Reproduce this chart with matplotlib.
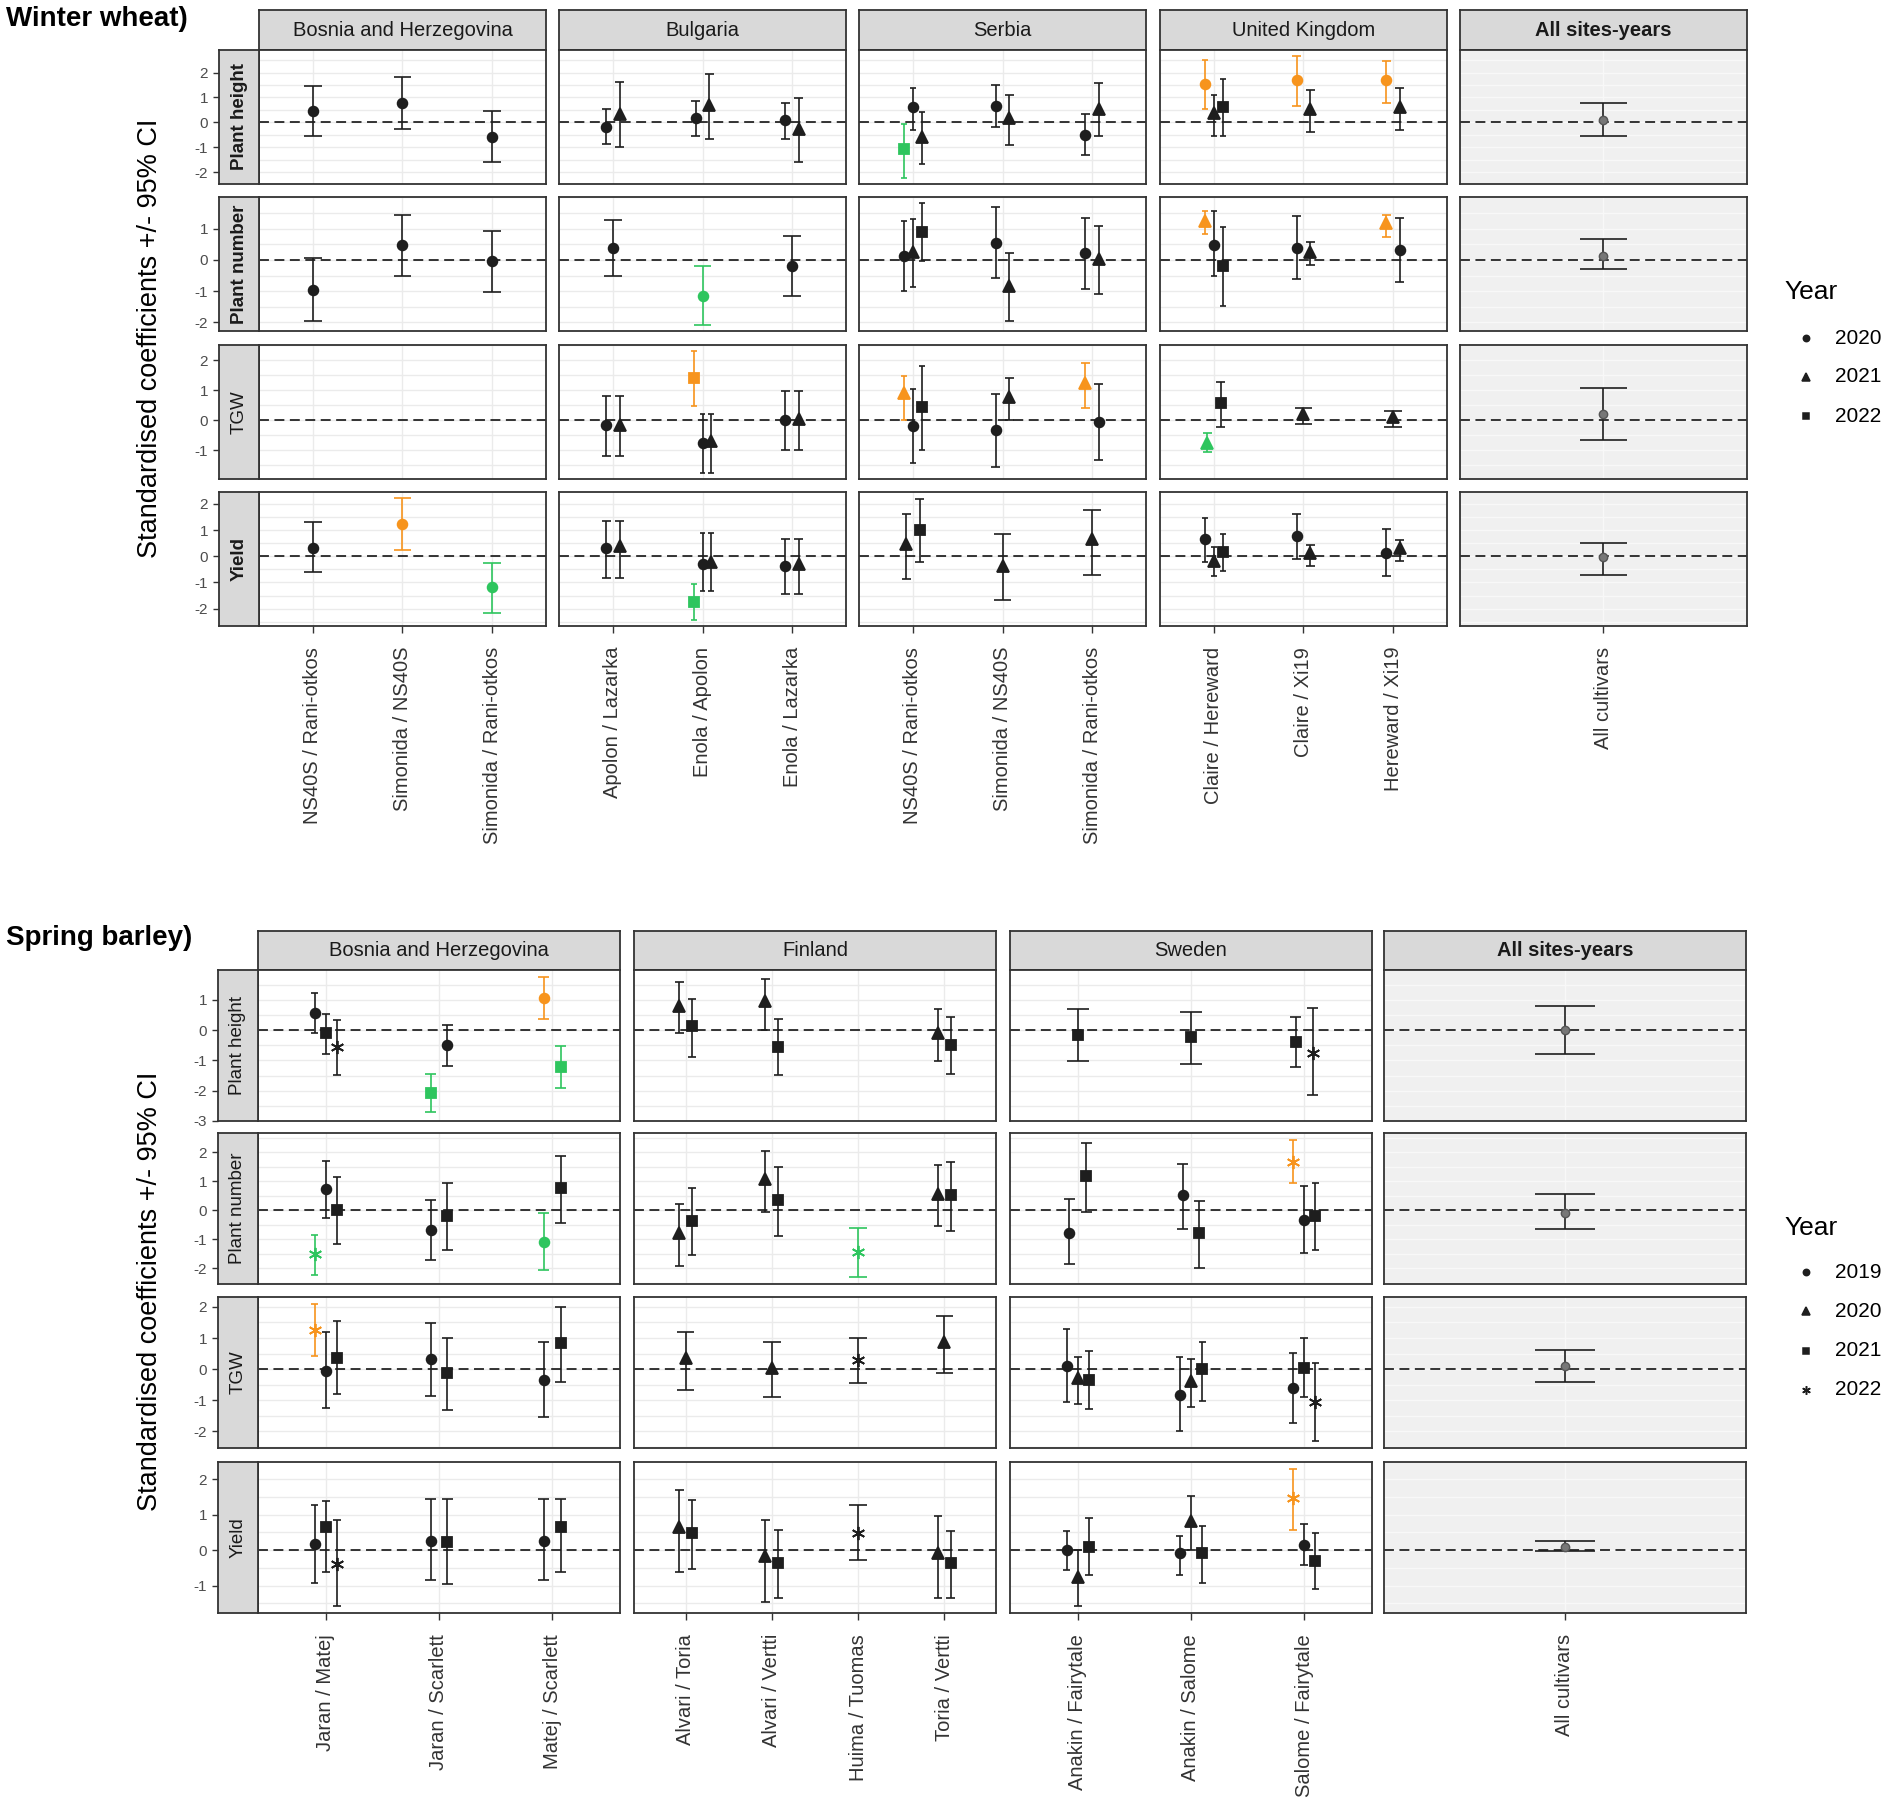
import matplotlib
matplotlib.use("Agg")
import matplotlib.pyplot as plt
import numpy as np

plt.rcParams['font.family'] = ['Liberation Sans', 'DejaVu Sans']

# ---------------------------------------------------------------- data
TRAITS = ["PH", "PN", "TGW", "Y"]
TRAIT_LABELS = ["Plant height", "Plant number", "TGW", "Yield"]

# Winter wheat
WW_COUNTRIES = ["Bosnia and Herzegovina", "Bulgaria", "Serbia", "United Kingdom"]
WW_PAIRS = [
    ["NS40S / Rani-otkos", "Simonida / NS40S", "Simonida / Rani-otkos"],
    ["Apolon / Lazarka", "Enola / Apolon", "Enola / Lazarka"],
    ["NS40S / Rani-otkos", "Simonida / NS40S", "Simonida / Rani-otkos"],
    ["Claire / Hereward", "Claire / Xi19", "Hereward / Xi19"],
]
WW_YEARS = [2020, 2021, 2022]
WW_TICKS = [[-2, -1, 0, 1, 2], [-2, -1, 0, 1], [-1, 0, 1, 2], [-2, -1, 0, 1, 2]]

# (pair index, trait, year, estimate, lower CI, upper CI, flag)  flag: "+" higher, "-" lower
WW_BIH = [
    (0, "PH", 2020, 0.45, -0.55, 1.45, ""),
    (1, "PH", 2020, 0.79, -0.26, 1.82, ""),
    (2, "PH", 2020, -0.58, -1.60, 0.47, ""),
    (0, "PN", 2020, -0.97, -1.97, 0.05, ""),
    (1, "PN", 2020, 0.48, -0.52, 1.45, ""),
    (2, "PN", 2020, -0.04, -1.03, 0.94, ""),
    (0, "Y", 2020, 0.31, -0.62, 1.29, ""),
    (1, "Y", 2020, 1.24, 0.23, 2.22, "+"),
    (2, "Y", 2020, -1.19, -2.17, -0.26, "-"),
]
WW_BUL = [
    (0, "PH", 2020, -0.18, -0.87, 0.53, ""),
    (0, "PH", 2021, 0.32, -0.97, 1.63, ""),
    (1, "PH", 2020, 0.19, -0.56, 0.87, ""),
    (1, "PH", 2021, 0.71, -0.65, 1.94, ""),
    (2, "PH", 2020, 0.10, -0.65, 0.79, ""),
    (2, "PH", 2021, -0.26, -1.60, 0.98, ""),
    (0, "PN", 2020, 0.39, -0.52, 1.29, ""),
    (1, "PN", 2020, -1.14, -2.08, -0.21, "-"),
    (2, "PN", 2020, -0.21, -1.14, 0.78, ""),
    (0, "TGW", 2020, -0.16, -1.18, 0.82, ""),
    (0, "TGW", 2021, -0.16, -1.18, 0.82, ""),
    (1, "TGW", 2022, 1.40, 0.48, 2.31, "+"),
    (1, "TGW", 2020, -0.75, -1.76, 0.22, ""),
    (1, "TGW", 2021, -0.68, -1.76, 0.22, ""),
    (2, "TGW", 2020, 0.00, -0.98, 0.97, ""),
    (2, "TGW", 2021, 0.04, -0.98, 0.97, ""),
    (0, "Y", 2020, 0.31, -0.82, 1.35, ""),
    (0, "Y", 2021, 0.39, -0.82, 1.35, ""),
    (1, "Y", 2022, -1.74, -2.43, -1.05, "-"),
    (1, "Y", 2020, -0.28, -1.32, 0.88, ""),
    (1, "Y", 2021, -0.23, -1.32, 0.88, ""),
    (2, "Y", 2020, -0.36, -1.43, 0.67, ""),
    (2, "Y", 2021, -0.31, -1.43, 0.67, ""),
]
WW_SRB = [
    (0, "PH", 2022, -1.05, -2.23, -0.05, "-"),
    (0, "PH", 2020, 0.61, -0.29, 1.37, ""),
    (0, "PH", 2021, -0.58, -1.66, 0.40, ""),
    (1, "PH", 2020, 0.66, -0.18, 1.50, ""),
    (1, "PH", 2021, 0.16, -0.89, 1.11, ""),
    (2, "PH", 2020, -0.50, -1.32, 0.34, ""),
    (2, "PH", 2021, 0.55, -0.56, 1.56, ""),
    (0, "PN", 2020, 0.14, -0.99, 1.25, ""),
    (0, "PN", 2021, 0.26, -0.88, 1.30, ""),
    (0, "PN", 2022, 0.91, -0.04, 1.82, ""),
    (1, "PN", 2020, 0.55, -0.57, 1.71, ""),
    (1, "PN", 2021, -0.82, -1.97, 0.21, ""),
    (2, "PN", 2020, 0.21, -0.94, 1.35, ""),
    (2, "PN", 2021, 0.03, -1.09, 1.09, ""),
    (0, "TGW", 2021, 0.90, 0.00, 1.47, "+"),
    (0, "TGW", 2020, -0.20, -1.43, 1.03, ""),
    (0, "TGW", 2022, 0.45, -0.98, 1.81, ""),
    (1, "TGW", 2020, -0.33, -1.56, 0.86, ""),
    (1, "TGW", 2021, 0.79, 0.00, 1.40, ""),
    (2, "TGW", 2021, 1.24, 0.42, 1.90, "+"),
    (2, "TGW", 2020, -0.05, -1.32, 1.20, ""),
    (0, "Y", 2021, 0.47, -0.88, 1.63, ""),
    (0, "Y", 2022, 0.99, -0.23, 2.17, ""),
    (1, "Y", 2021, -0.36, -1.67, 0.85, ""),
    (2, "Y", 2021, 0.65, -0.70, 1.78, ""),
]
WW_UK = [
    (0, "PH", 2020, 1.53, 0.55, 2.52, "+"),
    (0, "PH", 2021, 0.39, -0.56, 1.11, ""),
    (0, "PH", 2022, 0.60, -0.56, 1.76, ""),
    (1, "PH", 2020, 1.69, 0.65, 2.66, "+"),
    (1, "PH", 2021, 0.55, -0.37, 1.31, ""),
    (2, "PH", 2020, 1.69, 0.79, 2.45, "+"),
    (2, "PH", 2021, 0.60, -0.29, 1.37, ""),
    (0, "PN", 2021, 1.25, 0.83, 1.56, "+"),
    (0, "PN", 2020, 0.49, -0.52, 1.56, ""),
    (0, "PN", 2022, -0.21, -1.49, 1.04, ""),
    (1, "PN", 2020, 0.39, -0.62, 1.40, ""),
    (1, "PN", 2021, 0.27, -0.16, 0.57, ""),
    (2, "PN", 2021, 1.17, 0.73, 1.45, "+"),
    (2, "PN", 2020, 0.32, -0.71, 1.35, ""),
    (0, "TGW", 2021, -0.75, -1.07, -0.44, "-"),
    (0, "TGW", 2022, 0.56, -0.23, 1.29, ""),
    (1, "TGW", 2021, 0.20, -0.12, 0.42, ""),
    (2, "TGW", 2021, 0.11, -0.23, 0.31, ""),
    (0, "Y", 2020, 0.65, -0.23, 1.47, ""),
    (0, "Y", 2021, -0.19, -0.74, 0.36, ""),
    (0, "Y", 2022, 0.17, -0.57, 0.85, ""),
    (1, "Y", 2020, 0.78, -0.12, 1.60, ""),
    (1, "Y", 2021, 0.12, -0.39, 0.42, ""),
    (2, "Y", 2020, 0.11, -0.74, 1.05, ""),
    (2, "Y", 2021, 0.31, -0.20, 0.62, ""),
]
WW_ALL = [("PH", 0.11, -0.56, 0.79), ("PN", 0.14, -0.30, 0.68),
          ("TGW", 0.22, -0.65, 1.09), ("Y", -0.03, -0.70, 0.50)]

# Spring barley
SB_COUNTRIES = ["Bosnia and Herzegovina", "Finland", "Sweden"]
SB_PAIRS = [
    ["Jaran / Matej", "Jaran / Scarlett", "Matej / Scarlett"],
    ["Alvari / Toria", "Alvari / Vertti", "Huima / Tuomas", "Toria / Vertti"],
    ["Anakin / Fairytale", "Anakin / Salome", "Salome / Fairytale"],
]
SB_YEARS = [2019, 2020, 2021, 2022]
SB_TICKS = [[-3, -2, -1, 0, 1], [-2, -1, 0, 1, 2], [-2, -1, 0, 1, 2], [-1, 0, 1, 2]]

SB_BIH = [
    (0, "PH", 2019, 0.57, -0.11, 1.23, ""),
    (0, "PH", 2021, -0.09, -0.80, 0.54, ""),
    (0, "PH", 2022, -0.56, -1.47, 0.33, ""),
    (1, "PH", 2021, -2.08, -2.71, -1.44, "-"),
    (1, "PH", 2019, -0.50, -1.17, 0.17, ""),
    (2, "PH", 2019, 1.07, 0.38, 1.76, "+"),
    (2, "PH", 2021, -1.22, -1.92, -0.54, "-"),
    (0, "PN", 2022, -1.52, -2.22, -0.84, "-"),
    (0, "PN", 2019, 0.73, -0.26, 1.71, ""),
    (0, "PN", 2021, 0.02, -1.15, 1.15, ""),
    (1, "PN", 2019, -0.67, -1.71, 0.34, ""),
    (1, "PN", 2021, -0.19, -1.36, 0.93, ""),
    (2, "PN", 2019, -1.09, -2.08, -0.11, "-"),
    (2, "PN", 2021, 0.78, -0.43, 1.88, ""),
    (0, "TGW", 2022, 1.26, 0.41, 2.10, "+"),
    (0, "TGW", 2019, -0.07, -1.26, 1.19, ""),
    (0, "TGW", 2021, 0.36, -0.81, 1.55, ""),
    (1, "TGW", 2019, 0.32, -0.87, 1.49, ""),
    (1, "TGW", 2021, -0.12, -1.32, 1.01, ""),
    (2, "TGW", 2019, -0.35, -1.54, 0.87, ""),
    (2, "TGW", 2021, 0.84, -0.41, 2.00, ""),
    (0, "Y", 2019, 0.18, -0.94, 1.27, ""),
    (0, "Y", 2021, 0.65, -0.61, 1.38, ""),
    (0, "Y", 2022, -0.38, -1.58, 0.86, ""),
    (1, "Y", 2019, 0.27, -0.84, 1.43, ""),
    (1, "Y", 2021, 0.23, -0.97, 1.43, ""),
    (2, "Y", 2019, 0.27, -0.84, 1.43, ""),
    (2, "Y", 2021, 0.65, -0.61, 1.44, ""),
]
SB_FIN = [
    (0, "PH", 2020, 0.81, -0.09, 1.59, ""),
    (0, "PH", 2021, 0.12, -0.90, 1.02, ""),
    (1, "PH", 2020, 0.95, 0.00, 1.70, ""),
    (1, "PH", 2021, -0.56, -1.49, 0.38, ""),
    (3, "PH", 2020, -0.09, -1.01, 0.69, ""),
    (3, "PH", 2021, -0.48, -1.44, 0.42, ""),
    (0, "PN", 2020, -0.78, -1.92, 0.23, ""),
    (0, "PN", 2021, -0.37, -1.53, 0.78, ""),
    (1, "PN", 2020, 1.09, -0.05, 2.05, ""),
    (1, "PN", 2021, 0.34, -0.88, 1.50, ""),
    (2, "PN", 2022, -1.44, -2.31, -0.60, "-"),
    (3, "PN", 2020, 0.57, -0.56, 1.55, ""),
    (3, "PN", 2021, 0.51, -0.70, 1.66, ""),
    (0, "TGW", 2020, 0.36, -0.67, 1.19, ""),
    (1, "TGW", 2020, 0.04, -0.91, 0.87, ""),
    (2, "TGW", 2022, 0.28, -0.46, 1.01, ""),
    (3, "TGW", 2020, 0.87, -0.14, 1.70, ""),
    (0, "Y", 2020, 0.64, -0.62, 1.69, ""),
    (0, "Y", 2021, 0.47, -0.52, 1.40, ""),
    (1, "Y", 2020, -0.18, -1.45, 0.86, ""),
    (1, "Y", 2021, -0.36, -1.35, 0.58, ""),
    (2, "Y", 2022, 0.49, -0.29, 1.27, ""),
    (3, "Y", 2020, -0.09, -1.35, 0.95, ""),
    (3, "Y", 2021, -0.36, -1.35, 0.53, ""),
]
SB_SWE = [
    (0, "PH", 2021, -0.15, -1.01, 0.69, ""),
    (1, "PH", 2021, -0.24, -1.11, 0.59, ""),
    (2, "PH", 2021, -0.38, -1.23, 0.42, ""),
    (2, "PH", 2022, -0.74, -2.14, 0.74, ""),
    (0, "PN", 2019, -0.78, -1.86, 0.39, ""),
    (0, "PN", 2021, 1.19, -0.05, 2.33, ""),
    (1, "PN", 2019, 0.51, -0.65, 1.58, ""),
    (1, "PN", 2021, -0.78, -1.98, 0.33, ""),
    (2, "PN", 2022, 1.66, 0.95, 2.43, "+"),
    (2, "PN", 2019, -0.33, -1.47, 0.84, ""),
    (2, "PN", 2021, -0.20, -1.38, 0.95, ""),
    (0, "TGW", 2019, 0.09, -1.07, 1.29, ""),
    (0, "TGW", 2020, -0.29, -1.13, 0.39, ""),
    (0, "TGW", 2021, -0.35, -1.28, 0.57, ""),
    (1, "TGW", 2019, -0.83, -2.00, 0.38, ""),
    (1, "TGW", 2020, -0.39, -1.23, 0.32, ""),
    (1, "TGW", 2021, -0.01, -1.03, 0.87, ""),
    (2, "TGW", 2019, -0.62, -1.75, 0.51, ""),
    (2, "TGW", 2021, 0.03, -0.91, 0.99, ""),
    (2, "TGW", 2022, -1.06, -2.32, 0.20, ""),
    (0, "Y", 2019, 0.00, -0.57, 0.53, ""),
    (0, "Y", 2020, -0.75, -1.58, 0.00, ""),
    (0, "Y", 2021, 0.10, -0.70, 0.91, ""),
    (1, "Y", 2019, -0.09, -0.70, 0.40, ""),
    (1, "Y", 2020, 0.82, 0.00, 1.53, ""),
    (1, "Y", 2021, -0.09, -0.94, 0.69, ""),
    (2, "Y", 2022, 1.48, 0.58, 2.29, "+"),
    (2, "Y", 2019, 0.13, -0.42, 0.73, ""),
    (2, "Y", 2021, -0.31, -1.10, 0.49, ""),
]
SB_ALL = [("PH", 0.00, -0.80, 0.81), ("PN", -0.09, -0.65, 0.56),
          ("TGW", 0.10, -0.41, 0.62), ("Y", 0.09, -0.03, 0.27)]

# ---------------------------------------------------------------- style
W, H = 1890, 1809
STAR = (6, 2, 0)
MARKERS = ['o', '^', 's', STAR]
MSIZE = {'o': 7.0, '^': 8.0, 's': 6.5, STAR: 9.5}
FLAG_COLOR = {"": '#1E1E1E', "+": '#F7941D', "-": '#2EC55E'}
EDGE = '#333333'
STRIP = '#D9D9D9'
GRID = '#EBEBEB'

fig = plt.figure(figsize=(W / 100, H / 100), dpi=100)


def ax_px(x0, y0, x1, y1):
    return fig.add_axes([x0 / W, 1 - y1 / H, (x1 - x0) / W, (y1 - y0) / H])


def style_panel(ax, ncat, lims, ticks, bg='white', grid=GRID):
    ax.set_facecolor(bg)
    ax.set_yticks(ticks)
    halves = np.arange(np.ceil(lims[0] * 2) / 2, lims[1], 0.5)
    ax.set_yticks(halves, minor=True)
    ax.set_xlim(0.4, ncat + 0.6)
    ax.set_ylim(*lims)
    ax.grid(True, which='both', axis='y', color=grid, lw=1.0, zorder=0)
    ax.grid(True, which='major', axis='x', color=grid, lw=1.0, zorder=0)
    ax.set_axisbelow(True)
    ax.tick_params(axis='y', which='both', left=False, labelleft=False)
    for s in ax.spines.values():
        s.set_color(EDGE)
        s.set_linewidth(1.3)
    ax.axhline(0, color='black', lw=1.1, dashes=(6.5, 3.6), zorder=2)


def draw_points(ax, rows, marker_for):
    pairs_idx = sorted(set(r[0] for r in rows))
    for p in pairs_idx:
        grp = [r for r in rows if r[0] == p]
        n = len(grp)
        for i, (_, _, yr, est, lo, hi, flag) in enumerate(grp):
            x = p + 1 - 0.15 + 0.3 / (2 * n) + i * 0.3 / n
            half = 0.1 / n
            c = FLAG_COLOR[flag]
            ax.vlines(x, lo, hi, color=c, lw=1.2, zorder=3)
            ax.hlines([lo, hi], x - half, x + half, color=c, lw=1.2, zorder=3)
            m = marker_for[yr]
            ax.plot([x], [est], ls='none', marker=m, ms=MSIZE[m], color=c,
                    mec=c, mew=1.3, zorder=4)


def draw_section(countries, pairs, datasets, all_rows, years, ticks,
                 col_x, col_w, row_y, row_h, strip_h, strip_bold):
    marker_for = {yr: MARKERS[i] for i, yr in enumerate(years)}
    lims = []
    for r, t in enumerate(TRAITS):
        vals = [v for d in datasets for row in d if row[1] == t for v in row[4:6]]
        vals += [v for row in all_rows if row[0] == t for v in row[2:4]]
        lo, hi = min(vals), max(vals)
        pad = 0.05 * (hi - lo)
        lims.append((min(lo - pad, min(ticks[r])), hi + pad))

    ncol = len(countries) + 1
    for c in range(ncol):
        x0 = col_x[c]
        is_all = c == len(countries)
        title = "All sites-years" if is_all else countries[c]
        sax = ax_px(x0, row_y[0] - strip_h, x0 + col_w, row_y[0])
        sax.set_facecolor(STRIP)
        sax.set_xticks([])
        sax.set_yticks([])
        for s in sax.spines.values():
            s.set_color(EDGE)
            s.set_linewidth(1.3)
        sax.text(0.5, 0.5, title, transform=sax.transAxes, ha='center',
                 va='center', fontsize=14.5, color='#1A1A1A',
                 fontweight='bold' if is_all else 'normal')
        labels = ["All cultivars"] if is_all else pairs[c]
        for r, t in enumerate(TRAITS):
            ax = ax_px(x0, row_y[r], x0 + col_w, row_y[r] + row_h)
            if is_all:
                style_panel(ax, 1, lims[r], ticks[r], bg='#F0F0F0', grid='#F8F8F8')
                for tr, est, lo, hi in all_rows:
                    if tr != t:
                        continue
                    ax.vlines(1, lo, hi, color='#1E1E1E', lw=1.2, zorder=3)
                    ax.hlines([lo, hi], 0.9, 1.1, color='#1E1E1E', lw=1.2, zorder=3)
                    ax.plot([1], [est], ls='none', marker='o', ms=6,
                            color='#777777', mec='#555555', zorder=4)
            else:
                style_panel(ax, len(labels), lims[r], ticks[r])
                draw_points(ax, [row for row in datasets[c] if row[1] == t], marker_for)
            ax.set_xticks(range(1, len(labels) + 1))
            ax.set_xlim(0.4, len(labels) + 0.6)
            if r == len(TRAITS) - 1:
                ax.set_xticklabels(labels, rotation=90, fontsize=14.5, color='#333333')
                ax.tick_params(axis='x', length=5, width=1, color=EDGE, pad=10)
            else:
                ax.tick_params(axis='x', length=0, labelbottom=False)

    # row strips with the y axis outside
    for r, t in enumerate(TRAITS):
        rax = ax_px(col_x[0] - 40, row_y[r], col_x[0], row_y[r] + row_h)
        rax.set_facecolor(STRIP)
        rax.set_xticks([])
        rax.set_yticks(ticks[r])
        rax.set_yticklabels([str(v) for v in ticks[r]], fontsize=11, color='#4D4D4D')
        rax.set_ylim(*lims[r])
        rax.tick_params(axis='y', length=4, width=1, color=EDGE, pad=4)
        for s in rax.spines.values():
            s.set_color(EDGE)
            s.set_linewidth(1.3)
        rax.text(0.5, 0.5, TRAIT_LABELS[r], transform=rax.transAxes, rotation=90,
                 ha='center', va='center', fontsize=13.5, color='#1A1A1A',
                 fontweight='bold' if strip_bold[r] else 'normal')


draw_section(WW_COUNTRIES, WW_PAIRS, [WW_BIH, WW_BUL, WW_SRB, WW_UK], WW_ALL,
             WW_YEARS, WW_TICKS,
             col_x=[259, 559, 859, 1160, 1460], col_w=287,
             row_y=[50, 197, 345, 492], row_h=134, strip_h=40,
             strip_bold=[True, True, False, True])

draw_section(SB_COUNTRIES, SB_PAIRS, [SB_BIH, SB_FIN, SB_SWE], SB_ALL,
             SB_YEARS, SB_TICKS,
             col_x=[258, 634, 1010, 1384], col_w=362,
             row_y=[970, 1133, 1297, 1462], row_h=151, strip_h=39,
             strip_bold=[False, False, False, False])

# ---------------------------------------------------------------- annotations
ann = fig.add_axes([0, 0, 1, 1])
ann.set_xlim(0, W)
ann.set_ylim(H, 0)
ann.axis('off')

ann.text(6, 6, "Winter wheat)", fontsize=20, fontweight='bold', va='top', ha='left')
ann.text(6, 925, "Spring barley)", fontsize=20, fontweight='bold', va='top', ha='left')

ylab = "Standardised coefficients +/- 95% CI"
ann.text(150, (50 + 626) / 2, ylab, rotation=90, fontsize=19.5, ha='center', va='center')
ann.text(150, (970 + 1613) / 2, ylab, rotation=90, fontsize=19.5, ha='center', va='center')


def draw_legend(years, y_title, y_first, step):
    ann.text(1784, y_title, "Year", fontsize=19, ha='left', va='center')
    for i, yr in enumerate(years):
        y = y_first + i * step
        m = MARKERS[i]
        ann.plot([1806], [y], ls='none', marker=m, ms=MSIZE[m] * 0.65,
                 color='#1E1E1E', mew=1.1, clip_on=False)
        ann.text(1835, y, str(yr), fontsize=15, ha='left', va='center')


draw_legend(WW_YEARS, 292, 338, 39)
draw_legend(SB_YEARS, 1228, 1272, 39.3)

fig.savefig("out.png", dpi=100)
